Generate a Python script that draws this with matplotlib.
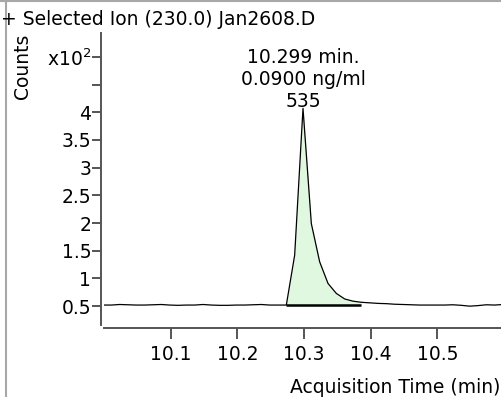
import matplotlib
matplotlib.use('Agg')
import matplotlib.pyplot as plt
from matplotlib.lines import Line2D

# ---- data ----
time = [9.9985, 10.011, 10.0235, 10.036, 10.0485, 10.061, 10.0735, 10.086, 10.0985,
        10.111, 10.1235, 10.136, 10.1485, 10.161, 10.1735, 10.186, 10.1985, 10.211,
        10.2235, 10.236, 10.2485, 10.261, 10.2735, 10.286, 10.2985, 10.311, 10.3235,
        10.336, 10.3485, 10.361, 10.3735, 10.386, 10.3985, 10.411, 10.4235, 10.436,
        10.4485, 10.461, 10.4735, 10.486, 10.4985, 10.511, 10.5235, 10.536, 10.5485,
        10.561, 10.5735, 10.586, 10.5985]
counts = [0.52, 0.52, 0.53, 0.525, 0.52, 0.52, 0.525, 0.53, 0.52,
          0.515, 0.52, 0.52, 0.53, 0.52, 0.515, 0.515, 0.52, 0.52,
          0.525, 0.53, 0.52, 0.52, 0.52, 1.42, 4.07, 1.99, 1.30,
          0.91, 0.73, 0.63, 0.59, 0.57, 0.56, 0.55, 0.545, 0.535,
          0.53, 0.525, 0.52, 0.52, 0.52, 0.52, 0.525, 0.515, 0.50,
          0.51, 0.525, 0.52, 0.53]
peak_start, peak_end = 22, 31
baseline_level = 0.52
yticks = [0.5, 1, 1.5, 2, 2.5, 3, 3.5, 4, 4.5, 5]
ytick_labels = ["0.5", "1", "1.5", "2", "2.5", "3", "3.5", "4", "", "x10$^2$"]
xticks = [10.1, 10.2, 10.3, 10.4, 10.5]
xtick_labels = ["10.1", "10.2", "10.3", "10.4", "10.5"]
title = "+ Selected Ion (230.0) Jan2608.D"
annot = ["10.299 min.", "0.0900 ng/ml", "535"]
apex_idx = 24

plt.rcParams['font.family'] = ['DejaVu Sans']
plt.rcParams['mathtext.fontset'] = 'dejavusans'
FS = 13.5
W, H = 502, 397
fig = plt.figure(figsize=(W/100, H/100), dpi=100)

def fx(px): return px / W
def fy(py): return 1 - py / H

ax = fig.add_axes([fx(104), fy(325), fx(502) - fx(104), fy(33) - fy(325)])
ax.fill_between(time[peak_start:peak_end + 1], counts[peak_start:peak_end + 1],
                baseline_level, color='#e0f8e0', lw=0)
ax.plot(time, counts, color='black', lw=0.9)
ax.plot([time[peak_start], time[peak_end]], [baseline_level, baseline_level],
        color='black', lw=1.8, solid_capstyle='butt')
ax.set_xlim(10.0, 10.597)
ax.set_ylim(0.16, 5.43)

for s in ['top', 'right']:
    ax.spines[s].set_visible(False)
for s in ['left', 'bottom']:
    ax.spines[s].set_position(('outward', 2.2))
    ax.spines[s].set_color('#555555')
    ax.spines[s].set_linewidth(1.4)

ax.set_yticks(yticks)
ax.set_yticklabels(ytick_labels)
ax.set_xticks(xticks)
ax.set_xticklabels(xtick_labels)
ax.tick_params(axis='y', length=6.5, width=1.4, color='#555555', labelsize=FS, pad=0.5)
ax.tick_params(axis='x', length=8, width=1.4, color='#555555', labelsize=FS, pad=4)

# annotation above apex (centred on apex time)
apex_px = ax.transData.transform((time[apex_idx], counts[apex_idx]))[0]
for t, py in zip(annot, [63, 85, 107]):
    fig.text(apex_px / W, fy(py), t, ha='center', va='baseline', fontsize=FS)

fig.text(fx(1), fy(25), title, ha='left', va='baseline', fontsize=FS)
fig.text(fx(23), fy(66), "Counts", ha='center', va='center', rotation=90, fontsize=FS)
fig.text(fx(500), fy(393), "Acquisition Time (min)", ha='right', va='baseline', fontsize=FS)

# figure frame lines (top and left)
fig.add_artist(Line2D([0, 1], [fy(1), fy(1)], transform=fig.transFigure, color='#a8a8a8', lw=1.5))
fig.add_artist(Line2D([fx(6), fx(6)], [0, 1], transform=fig.transFigure, color='#a8a8a8', lw=1.5))

fig.savefig('out.png', dpi=100)
